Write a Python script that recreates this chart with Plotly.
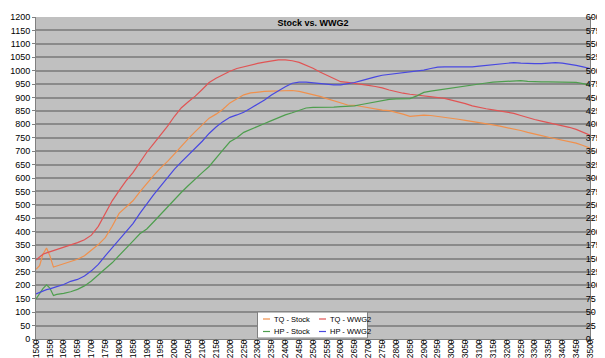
import plotly.graph_objects as go

rpm = [1500, 1513, 1525, 1538, 1550, 1563, 1575] + list(range(1600, 3501, 25))

tq_stock = [260, 273, 316, 339, 310, 268, 272,
            281, 288, 297, 310, 330, 352, 378, 420, 468, 490, 515, 548, 580, 610, 638, 662,
            690, 720, 747, 773, 800, 823, 838, 856, 880, 894, 910, 917, 921, 923, 924, 925,
            927, 926, 923, 917, 911, 904, 896, 888, 879, 872, 871, 866, 861, 857, 853, 851,
            845, 838, 830, 832, 834, 833, 830, 827, 823, 819, 815, 811, 808, 803, 798, 793,
            788, 783, 777, 770, 763, 758, 752, 746, 740, 735, 730, 721, 711]

tq_wwg2 = [294, 305, 316, 321, 325, 330, 334,
           343, 350, 359, 370, 387, 420, 470, 515, 553, 589, 620, 657, 696, 728, 760, 793,
           830, 862, 884, 905, 930, 956, 972, 986, 998, 1008, 1015, 1022, 1027, 1032, 1037, 1040,
           1040, 1037, 1031, 1021, 1009, 995, 983, 969, 959, 956, 953, 949, 945, 941, 936, 928,
           921, 916, 912, 909, 906, 904, 902, 897, 890, 884, 877, 869, 863, 858, 854, 849,
           845, 841, 833, 825, 818, 812, 806, 802, 796, 789, 781, 771, 760]

# HP read on the left-axis scale (x2); plotted on the right axis (0-600)
hp_stock_2x = [149, 172, 188, 202, 190, 162, 166,
               170, 176, 185, 198, 216, 240, 262, 284, 310, 338, 365, 392, 410, 437, 465, 495,
               522, 547, 572, 598, 620, 643, 672, 705, 735, 750, 770, 782, 792, 803, 814, 825,
               835, 843, 852, 861, 863, 863, 862, 864, 866, 868, 869, 874, 879, 883, 887, 893,
               895, 895, 896, 906, 919, 924, 928, 932, 936, 940, 944, 947, 950, 954, 957, 958,
               959, 960, 963, 960, 958, 958, 958, 958, 958, 957, 956, 952, 946]

hp_wwg2_2x = [168, 174, 180, 184, 187, 190, 195,
              203, 215, 222, 235, 254, 278, 310, 340, 370, 400, 430, 468, 505, 538, 570, 602,
              633, 660, 685, 710, 737, 766, 790, 810, 826, 835, 845, 860, 874, 891, 909, 925,
              940, 953, 957, 957, 954, 951, 948, 947, 947, 951, 956, 963, 971, 977, 983, 986,
              988, 991, 994, 998, 1002, 1008, 1013, 1014, 1014, 1014, 1014, 1014, 1017, 1020, 1023, 1026,
              1028, 1030, 1028, 1026, 1026, 1026, 1028, 1030, 1028, 1025, 1020, 1014, 1008]

hp_stock = [v / 2 for v in hp_stock_2x]
hp_wwg2 = [v / 2 for v in hp_wwg2_2x]

names = ["TQ - Stock", "TQ - WWG2", "HP - Stock", "HP - WWG2"]
colors = ["#F0904C", "#E05454", "#4E9E4E", "#4848E0"]

title = "Stock vs. WWG2"
x_ticks = list(range(1500, 3501, 50))
left_ticks = list(range(0, 1201, 50))
right_ticks = list(range(0, 601, 25))

FONT = "Liberation Sans, Arial, sans-serif"

fig = go.Figure()
fig.add_trace(go.Scatter(x=rpm, y=tq_stock, name=names[0], mode="lines",
                         line=dict(color=colors[0], width=1.2), yaxis="y"))
fig.add_trace(go.Scatter(x=rpm, y=tq_wwg2, name=names[1], mode="lines",
                         line=dict(color=colors[1], width=1.2), yaxis="y"))
fig.add_trace(go.Scatter(x=rpm, y=hp_stock, name=names[2], mode="lines",
                         line=dict(color=colors[2], width=1.2), yaxis="y2"))
fig.add_trace(go.Scatter(x=rpm, y=hp_wwg2, name=names[3], mode="lines",
                         line=dict(color=colors[3], width=1.2), yaxis="y2"))

W, H = 605, 358
ml, mr, mt, mb = 28, 23, 9, 27
pw, ph = W - ml - mr, H - mt - mb

def px_x(x):
    return (x - ml) / pw

def px_y(y):
    return (H - mb - y) / ph

# manual legend box (2x2 like the original)
shapes = [dict(type="rect", xref="paper", yref="paper",
               x0=px_x(249.5), x1=px_x(359.5), y0=px_y(330), y1=px_y(304),
               fillcolor="white", line=dict(color="#808080", width=1), layer="above")]
annotations = []
pos = [(255, 311), (311, 311), (255, 323.5), (311, 323.5)]
for (lx, ly), nm, c in zip(pos, names, colors):
    shapes.append(dict(type="line", xref="paper", yref="paper",
                       x0=px_x(lx), x1=px_x(lx + 7), y0=px_y(ly), y1=px_y(ly),
                       line=dict(color=c, width=1.2), layer="above"))
    annotations.append(dict(text=nm, xref="paper", yref="paper",
                            x=px_x(lx + 8.5), y=px_y(ly), xanchor="left", yanchor="middle",
                            showarrow=False, font=dict(family=FONT, size=7.5, color="black")))

fig.update_layout(
    width=W, height=H,
    margin=dict(l=ml, r=mr, t=mt, b=mb),
    paper_bgcolor="white",
    plot_bgcolor="#C0C0C0",
    showlegend=False,
    title=dict(text="<b>" + title + "</b>", x=0.5, xref="paper", xanchor="center",
               y=1 - 15 / H, yref="container", yanchor="middle",
               font=dict(family=FONT, size=9, color="black")),
    font=dict(family=FONT, size=9, color="black"),
    shapes=shapes,
    annotations=annotations,
    xaxis=dict(range=[1500, 3500], tickmode="array", tickvals=x_ticks,
               ticktext=[str(t) for t in x_ticks], tickangle=-90,
               showgrid=False, zeroline=False, showline=True, linecolor="#808080", linewidth=1,
               ticks="outside", ticklen=3, tickcolor="#808080", ticklabelstandoff=-7,
               tickfont=dict(family=FONT, size=8.5), automargin=False),
    yaxis=dict(range=[0, 1200], tickmode="array", tickvals=left_ticks,
               showgrid=True, gridcolor="#8A8A8A", gridwidth=2, zeroline=False,
               showline=True, linecolor="#808080", linewidth=1,
               ticks="outside", ticklen=3, tickcolor="#808080",
               tickfont=dict(family=FONT, size=9), automargin=False),
    yaxis2=dict(range=[0, 600], tickmode="array", tickvals=right_ticks,
                overlaying="y", side="right", showgrid=False, zeroline=False,
                showline=True, linecolor="#808080", linewidth=1,
                ticks="outside", ticklen=3, tickcolor="#808080", ticklabelstandoff=-10,
                tickfont=dict(family=FONT, size=9), automargin=False),
)

fig.write_html("out.html")
